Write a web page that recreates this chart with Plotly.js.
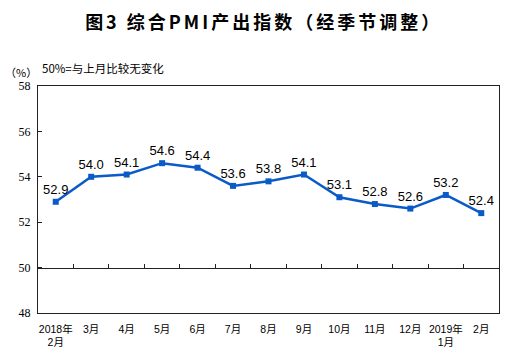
<!DOCTYPE html>
<html><head><meta charset="utf-8">
<script src="https://cdn.plot.ly/plotly-3.0.1.min.js"></script>
<style>html,body{margin:0;padding:0;background:#fff} .gtitle{letter-spacing:3px}</style>
</head><body><div id="chart" style="width:507px;height:363px"></div>
<script>
const months = ["2018年<br>2月","3月","4月","5月","6月","7月","8月","9月","10月","11月","12月","2019年<br>1月","2月"];
const pmiValues = [52.9, 54.0, 54.1, 54.6, 54.4, 53.6, 53.8, 54.1, 53.1, 52.8, 52.6, 53.2, 52.4];
const yTicks = [48, 50, 52, 54, 56, 58];
const titleText = "图3 综合PMI产出指数（经季节调整）";
const unitText = "（%）";
const noteText = "50%=与上月比较无变化";

const idx = months.map((_, i) => i);
const boundaries = months.slice(1).map((_, i) => i + 0.5);

const data = [{
  x: idx, y: pmiValues, type: 'scatter', mode: 'lines+markers+text',
  text: pmiValues.map(v => v.toFixed(1)), textposition: 'top center',
  textfont: {family: 'Liberation Sans, Arial', size: 13, color: '#000'},
  line: {color: '#0A5AC8', width: 2.5},
  marker: {symbol: 'square', size: 6, color: '#0A5AC8'},
  cliponaxis: false, hoverinfo: 'skip'
}, {
  x: boundaries, y: boundaries.map(() => null), xaxis: 'x2', type: 'scatter', showlegend: false, hoverinfo: 'skip'
}];

const layout = {
  width: 507, height: 363,
  margin: {l: 38, r: 8, t: 86, b: 50},
  paper_bgcolor: '#fff', plot_bgcolor: '#fff',
  showlegend: false,
  title: {text: titleText, x: 0.52, xanchor: 'center', y: 0.938, yanchor: 'middle',
    font: {family: 'Noto Sans CJK SC, sans-serif', size: 18, color: '#000', weight: 'bold'}},
  xaxis: {
    range: [-0.5, 12.5], tickvals: idx, ticktext: months, ticks: '',
    ticklabelstandoff: 6,
    showgrid: false, zeroline: false, showline: true, linecolor: '#222', linewidth: 1, mirror: true,
    tickfont: {family: 'Liberation Sans, Noto Sans CJK SC', size: 10.5, color: '#000'},
    fixedrange: true
  },
  xaxis2: {
    overlaying: 'x', anchor: 'free', position: 0.2, side: 'bottom',
    range: [-0.5, 12.5], tickvals: boundaries, ticks: 'inside', ticklen: 4, tickcolor: '#222',
    showticklabels: false, showgrid: false, zeroline: false,
    showline: true, linecolor: '#222', linewidth: 1
  },
  yaxis: {
    range: [48, 58], tickvals: yTicks, ticks: 'inside', ticklen: 4, tickcolor: '#222',
    ticklabelstandoff: 4,
    showgrid: false, zeroline: false, showline: true, linecolor: '#222', linewidth: 1, mirror: true,
    tickfont: {family: 'Liberation Serif, Times New Roman', size: 12, color: '#000'},
    fixedrange: true
  },
  annotations: [
    {text: unitText, xref: 'paper', yref: 'paper', x: -0.075, y: 1.06, xanchor: 'left', yanchor: 'middle',
      showarrow: false, font: {family: 'Noto Sans CJK SC', size: 11, color: '#000'}},
    {text: noteText, xref: 'paper', yref: 'paper', x: 0.005, y: 1.08, xanchor: 'left', yanchor: 'middle',
      showarrow: false, font: {family: 'Noto Sans CJK SC', size: 11.5, color: '#000'}}
  ]
};
Plotly.newPlot('chart', data, layout, {displayModeBar: false, staticPlot: true});
</script></body></html>
